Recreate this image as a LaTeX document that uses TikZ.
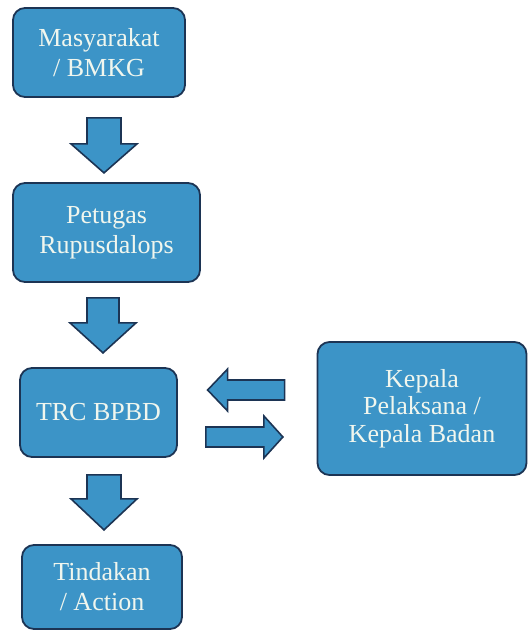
\documentclass[tikz,border=0pt]{standalone}
\usepackage{fontspec}
\newfontfamily\boxfont{Liberation Serif}
\usepackage{tikz}
\usetikzlibrary{calc,positioning}
\definecolor{boxblue}{RGB}{60,148,199}
\definecolor{boxline}{RGB}{28,52,84}
\definecolor{boxtext}{RGB}{240,246,238}
\tikzset{
  box/.style={
    rectangle,
    rounded corners=12pt,
    draw=boxline, line width=1.8pt,
    fill=boxblue,
    text=boxtext,
    font=\boxfont\fontsize{26}{30}\selectfont,
    align=center,
    inner sep=0pt},
  blockarrow/.style={draw=boxline, line width=1.6pt, fill=boxblue, line join=miter},
}
\begin{document}
\begin{tikzpicture}[x=1pt, y=-1pt]
    \useasboundingbox (0,0) rectangle (528,631);

    % boxes
    \node[box, minimum width=172pt, minimum height=89pt] (mas) at (99,52.5)
         {Masyarakat\\/ BMKG};
    \node[box, minimum width=187pt, minimum height=99pt] (pet) at (106.5,232.5)
         {Petugas\\Rupusdalops};
    \node[box, minimum width=157pt, minimum height=89pt] (trc) at (98.5,412.5)
         {TRC BPBD};
    \node[box, minimum width=209pt, minimum height=133pt,
          font=\boxfont\fontsize{26}{27.5}\selectfont] (kep) at (422,408.5)
         {Kepala\\Pelaksana /\\Kepala Badan};
    \node[box, minimum width=160pt, minimum height=84pt] (tin) at (102,587)
         {Tindakan\\/ Action};

    % down arrows
    \draw[blockarrow] ($(mas.south)+(5,20)$) ++(-17,0) -- ++(34,0) -- ++(0,26)
         -- ++(16,0) -- ++(-33,29) -- ++(-33,-29) -- ++(16,0) -- cycle;
    \draw[blockarrow] ($(pet.south)+(-3.5,15)$) ++(-16,0) -- ++(32,0) -- ++(0,25)
         -- ++(17,0) -- ++(-33,30) -- ++(-33,-30) -- ++(17,0) -- cycle;
    \draw[blockarrow] ($(trc.south)+(5.5,17)$) ++(-17,0) -- ++(34,0) -- ++(0,24)
         -- ++(16,0) -- ++(-33,31) -- ++(-33,-31) -- ++(16,0) -- cycle;

    % side arrows
    \draw[blockarrow] ($(kep.west)+(-32,-18.5)$) ++(0,-10) -- ++(-57,0) -- ++(0,-11)
         -- ++(-20,21) -- ++(20,21) -- ++(0,-11) -- ++(57,0) -- cycle;
    \draw[blockarrow] ($(trc.east)+(28,24.5)$) ++(0,-10) -- ++(58,0) -- ++(0,-11)
         -- ++(19,21) -- ++(-19,21) -- ++(0,-11) -- ++(-58,0) -- cycle;

\end{tikzpicture}
\end{document}
